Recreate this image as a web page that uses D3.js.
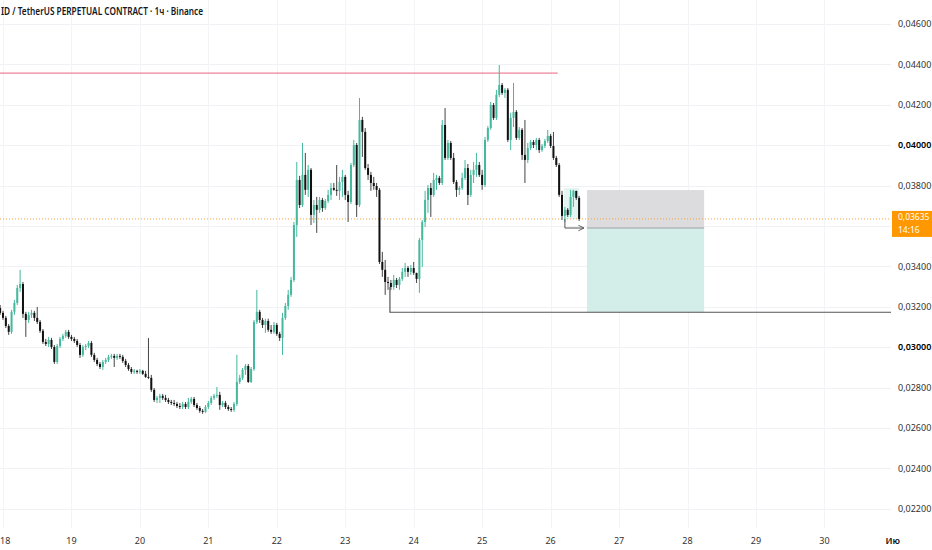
<!DOCTYPE html>
<html><head><meta charset="utf-8">
<script src="https://cdn.jsdelivr.net/npm/d3@7"></script>
<style>body{margin:0;background:#fff}svg{display:block}text{font-family:"Noto Sans",sans-serif}</style>
</head><body><svg id="c" width="932" height="550"></svg>
<script>
const title = "ID / TetherUS PERPETUAL CONTRACT · 1ч · Binance";
const PRICE_UNIT = 1e-5;
const firstCandle = new Date(2024, 5, 17, 23);   // hourly candles
const firstOpen = 3194;
const closes = [
3170,3145,3105,3076,3175,3219,3293,3313,3165,3135,
3160,3170,3145,3125,3081,3026,3016,3036,3001,2927,
3006,3041,3056,3076,3051,3041,3031,3011,2962,3001,
3006,3021,2962,2937,2917,2902,2927,2937,2952,2957,
2947,2957,2952,2932,2912,2892,2878,2883,2878,2883,
2868,2853,2848,2789,2739,2749,2759,2749,2739,2729,
2724,2719,2709,2704,2719,2704,2729,2744,2714,2699,
2685,2680,2704,2724,2749,2759,2764,2714,2724,2704,
2694,2690,2719,2828,2848,2888,2907,2828,2892,3125,
3175,3135,3110,3130,3086,3076,3110,3066,3046,3145,
3204,3259,3333,3605,3828,3704,3853,3779,3878,3655,
3704,3680,3729,3689,3724,3754,3788,3779,3774,3818,
3843,3754,3719,3902,4001,3704,4125,4066,3887,3853,
3813,3798,3779,3422,3383,3323,3318,3298,3333,3308,
3338,3373,3392,3373,3392,3368,3338,3531,3620,3729,
3788,3754,3828,3838,3813,4100,3937,4011,3937,3818,
3779,3788,3838,3887,3754,3853,3878,3902,3853,3803,
4026,4085,4199,4135,4249,4298,4259,4274,4026,4135,
4165,4036,4076,3952,3927,3986,4016,4001,4026,3976,
3996,4021,4046,3996,3937,3902,3754,3650,3680,3655,
3744,3774,3739,3635];
const highs = [
3209,3180,3155,3115,3185,3234,3308,3383,3323,3175,
3175,3185,3180,3199,3135,3090,3041,3051,3046,3011,
3016,3051,3066,3086,3086,3061,3051,3041,3021,3011,
3016,3031,3031,2972,2947,2927,2937,2947,2962,2967,
2967,2967,2967,2962,2942,2922,2902,2892,2888,2892,
2888,2883,3046,2863,2798,2759,2769,2769,2764,2749,
2739,2739,2729,2724,2729,2729,2749,2754,2754,2724,
2709,2694,2714,2734,2759,2769,2803,2779,2734,2734,
2714,2704,2729,2962,2863,2897,2917,2917,2902,3135,
3284,3185,3145,3141,3141,3110,3125,3120,3076,3170,
3219,3284,3348,3620,3917,3848,4011,3962,3902,3887,
3729,3744,3744,3739,3734,3779,3813,3813,3902,3843,
3878,3853,3774,3912,4026,4011,4234,4140,4085,3907,
3868,3843,3813,3788,3472,3432,3348,3333,3358,3343,
3348,3392,3417,3402,3407,3422,3353,3541,3630,3774,
3803,3813,3863,3853,3848,4125,4184,4026,4021,3962,
3828,3798,3863,3927,3907,3878,3917,3962,3917,3878,
4041,4095,4214,4209,4274,4397,4308,4283,4283,4160,
4308,4174,4090,4085,4125,4011,4026,4026,4036,4036,
4006,4031,4076,4056,4066,3947,3912,3774,3694,3689,
3779,3779,3774,3749];
const lows = [
3160,3135,3095,3061,3066,3160,3209,3274,3145,3051,
3120,3145,3130,3115,3071,3016,3006,3001,2991,2917,
2917,2996,3031,3046,3041,3031,3021,3001,2947,2952,
2986,2996,2952,2927,2907,2892,2888,2917,2927,2942,
2902,2937,2942,2922,2902,2883,2868,2868,2868,2868,
2863,2848,2843,2779,2729,2724,2724,2739,2729,2719,
2714,2709,2699,2694,2694,2694,2694,2719,2704,2690,
2675,2670,2675,2694,2714,2739,2749,2690,2704,2694,
2685,2680,2680,2709,2818,2838,2863,2823,2823,2883,
3115,3120,3095,3071,3076,3066,3066,3056,3031,2962,
3135,3185,3249,3323,3546,3689,3694,3754,3744,3605,
3615,3566,3665,3670,3680,3714,3729,3774,3749,3729,
3744,3729,3620,3709,3892,3645,3694,3942,3878,3828,
3774,3779,3744,3412,3348,3259,3284,3284,3284,3293,
3284,3328,3348,3348,3358,3358,3318,3269,3397,3595,
3665,3645,3744,3779,3803,3803,3927,3927,3927,3808,
3744,3754,3779,3828,3704,3744,3813,3843,3843,3779,
3793,4016,4076,4125,4125,4239,4249,4234,4016,3976,
4090,4026,4026,3927,3813,3912,3976,3986,3976,3962,
3967,3986,4011,3986,3927,3892,3744,3630,3620,3645,
3645,3694,3729,3625];
const priceTicks = [0.022,0.024,0.026,0.028,0.030,0.032,0.034,0.036,0.038,0.040,0.042,0.044,0.046];
const hiddenTicks = [0.036];
const boldTicks = [0.030,0.040];
const dayTicks = [18,19,20,21,22,23,24,25,26,27,28,29,30];
const monthLabel = "Ию";
const lastPrice = 0.03635;
const countdown = "14:16";
const resistancePrice = 0.04357;
const resistanceEnd = new Date(2024,5,26,2,30);
const supportPrice = 0.03173;
const supportAnchorPrice = 0.03298;
const supportStart = new Date(2024,5,23,15,40);
const posStart = new Date(2024,5,26,12,45);
const posEnd = new Date(2024,5,28,5,50);
const posStop = 0.03778, posEntry = 0.0359, posTarget = 0.03173;
const markStart = new Date(2024,5,26,4,40), markEnd = new Date(2024,5,26,10,0);
const markTop = 0.03788;

const svg = d3.select("#c");
const W = 932, H = 550, plotR = 891, plotB = 528;
const x = d3.scaleTime().domain([new Date(2024,5,18), new Date(2024,6,1)]).range([3, 3 + 13*68.45]);
const y = d3.scaleLinear().domain([0.022, 0.046]).range([508.8, 24]);

svg.append("rect").attr("width",W).attr("height",H).attr("fill","#fff");
svg.append("clipPath").attr("id","clip").append("rect").attr("x",0).attr("y",0).attr("width",plotR).attr("height",plotB);

const g = svg.append("g").attr("clip-path","url(#clip)");
// grid
g.selectAll(".hg").data(priceTicks).join("line")
  .attr("x1",0).attr("x2",plotR).attr("y1",d=>Math.round(y(d))+0.5).attr("y2",d=>Math.round(y(d))+0.5)
  .attr("stroke","#f0f1f4").attr("stroke-width",1);
const dayDates = dayTicks.map(d=>new Date(2024,5,d)).concat([new Date(2024,6,1)]);
g.selectAll(".vg").data(dayDates).join("line")
  .attr("x1",d=>Math.round(x(d))+0.5).attr("x2",d=>Math.round(x(d))+0.5).attr("y1",0).attr("y2",plotB)
  .attr("stroke","#f3f4f6").attr("stroke-width",1);

// candles
const candles = closes.map((c,i)=>{
  const o = (i===0?firstOpen:closes[i-1]);
  return {t:new Date(firstCandle.getTime()+i*3600e3), o:o*PRICE_UNIT, c:c*PRICE_UNIT,
    h:Math.max(highs[i],o,c)*PRICE_UNIT, l:Math.min(lows[i],o,c)*PRICE_UNIT};
});
const upC = "#45b89e", dnC = "#111";

// position tool
g.append("rect").attr("x",x(posStart)).attr("width",x(posEnd)-x(posStart))
  .attr("y",y(posStop)).attr("height",y(posEntry)-y(posStop)).attr("fill","#dcdcde");
g.append("rect").attr("x",x(posStart)).attr("width",x(posEnd)-x(posStart))
  .attr("y",y(posEntry)).attr("height",y(posTarget)-y(posEntry)).attr("fill","#d3eee8");
g.append("line").attr("x1",x(posStart)).attr("x2",x(posEnd)).attr("y1",y(posEntry)).attr("y2",y(posEntry))
  .attr("stroke","#9ea0a6").attr("stroke-width",1);
// small highlight
g.append("rect").attr("x",x(markStart)).attr("width",x(markEnd)-x(markStart))
  .attr("y",y(markTop)).attr("height",y(lastPrice)-y(markTop)).attr("fill","rgba(69,184,158,0.15)");

// current price dotted line
g.append("line").attr("x1",0).attr("x2",plotR).attr("y1",y(lastPrice)).attr("y2",y(lastPrice))
  .attr("stroke","#f7a33a").attr("stroke-width",1).attr("stroke-dasharray","1,2");

// resistance line
g.append("line").attr("x1",0).attr("x2",x(resistanceEnd)).attr("y1",y(resistancePrice)).attr("y2",y(resistancePrice))
  .attr("stroke","#e8657f").attr("stroke-width",1);
// support path
g.append("path").attr("fill","none").attr("stroke","#555").attr("stroke-width",1.2)
  .attr("d",`M${x(supportStart)},${y(supportAnchorPrice)}V${y(supportPrice)}H${plotR}`);

// wicks + bodies
g.selectAll(".wick").data(candles).join("line")
  .attr("x1",d=>x(d.t)).attr("x2",d=>x(d.t)).attr("y1",d=>y(d.h)).attr("y2",d=>y(d.l))
  .attr("stroke",d=>d.c>=d.o?upC:"#444").attr("stroke-width",1);
g.selectAll(".body").data(candles).join("rect")
  .attr("x",d=>x(d.t)-1).attr("width",2)
  .attr("y",d=>y(Math.max(d.o,d.c))).attr("height",d=>Math.max(1,Math.abs(y(d.o)-y(d.c))))
  .attr("fill",d=>d.c>=d.o?upC:dnC);

// arrow
svg.append("defs").append("marker").attr("id","ar").attr("viewBox","0 0 10 10").attr("refX",9).attr("refY",5)
  .attr("markerWidth",7).attr("markerHeight",7).attr("orient","auto")
  .append("path").attr("d","M1,1L9,5L1,9").attr("fill","none").attr("stroke","#555").attr("stroke-width",1.3);
g.append("path").attr("fill","none").attr("stroke","#555").attr("stroke-width",1)
  .attr("d",`M${x(markStart)+1},${y(lastPrice)}V${y(posEntry)}H${x(posStart)-3}`).attr("marker-end","url(#ar)");

// price axis
svg.selectAll(".pl").data(priceTicks.filter(d=>!hiddenTicks.includes(d))).join("text")
  .attr("x",898).attr("y",d=>y(d)).attr("dy","0.35em")
  .attr("font-size",9).attr("fill",d=>boldTicks.includes(d)?"#000":"#333")
  .attr("font-weight",d=>boldTicks.includes(d)?600:400)
  .text(d=>d3.format(".5f")(d).replace(".",","));
const ly = y(lastPrice);
svg.append("rect").attr("x",plotR+1).attr("y",ly-8).attr("width",W-plotR-1).attr("height",26).attr("fill","#ff9800");
svg.append("text").attr("x",898).attr("y",ly-1.5).attr("dy","0.35em").attr("font-size",8.5).attr("fill","#fff")
  .text(d3.format(".5f")(lastPrice).replace(".",","));
svg.append("text").attr("x",898).attr("y",ly+11).attr("dy","0.35em").attr("font-size",8.5).attr("fill","#fff").text(countdown);

// time axis
svg.selectAll(".tl").data(dayTicks).join("text")
  .attr("x",d=>d===18?0:x(new Date(2024,5,d))).attr("y",541).attr("dy","0.35em")
  .attr("text-anchor",d=>d===18?"start":"middle")
  .attr("font-size",9).attr("fill","#333").text(d=>d);
svg.append("text").attr("x",x(new Date(2024,6,1))).attr("y",541).attr("dy","0.35em").attr("text-anchor","middle")
  .attr("font-size",9).attr("font-weight",600).attr("fill","#111").text(monthLabel);

// title
svg.append("text").attr("x",1).attr("y",15).attr("font-size",11).attr("font-weight",600).attr("fill","#131722")
  .attr("textLength",202).attr("lengthAdjust","spacingAndGlyphs").text(title);
</script></body></html>
